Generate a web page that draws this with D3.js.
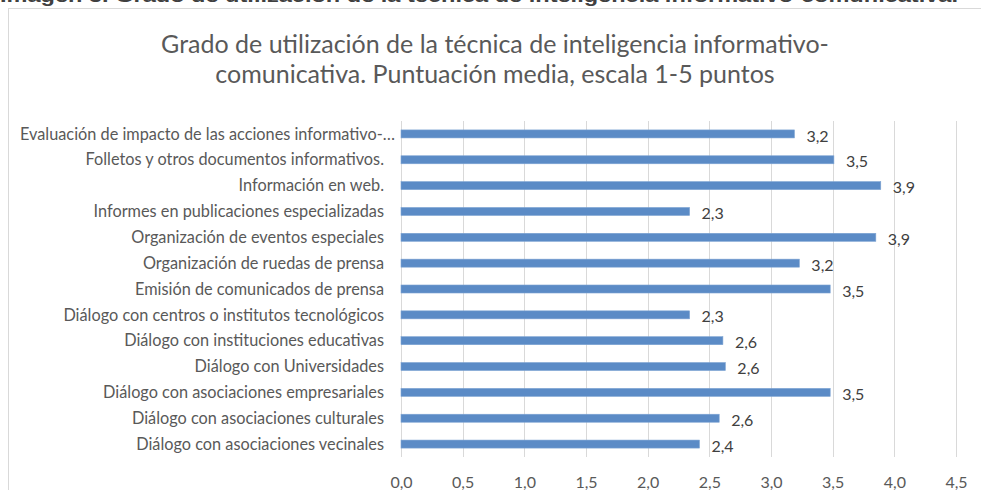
<!DOCTYPE html>
<meta charset="utf-8">
<style>
body { margin: 0; background: #fff; }
svg text { font-family: Lato, "Open Sans", sans-serif; }
.grid line { stroke: #d9d9d9; }
.axis path, .axis line { display: none; }
</style>
<body>
<svg width="981" height="490"></svg>
<script src="https://d3js.org/d3.v7.min.js"></script>
<script>
// categories, top to bottom as in the chart
var categories = [
  "Evaluación de impacto de las acciones informativo-…",
  "Folletos y otros documentos informativos.",
  "Información en web.",
  "Informes en publicaciones especializadas",
  "Organización de eventos especiales",
  "Organización de ruedas de prensa",
  "Emisión de comunicados de prensa",
  "Diálogo con centros o institutos tecnológicos",
  "Diálogo con instituciones educativas",
  "Diálogo con Universidades",
  "Diálogo con asociaciones empresariales",
  "Diálogo con asociaciones culturales",
  "Diálogo con asociaciones vecinales"
];
var values = [3.19, 3.51, 3.89, 2.34, 3.85, 3.23, 3.48, 2.34, 2.61, 2.63, 3.48, 2.58, 2.42];
var ticks = [0, 0.5, 1, 1.5, 2, 2.5, 3, 3.5, 4, 4.5];
var pageTitle = "Imagen 3. Grado de utilización de la técnica de inteligencia informativo-comunicativa.";
var titleLines = ["Grado de utilización de la técnica de inteligencia informativo-",
                  "comunicativa. Puntuación media, escala 1-5 puntos"];

var svg = d3.select("svg");
var fmt = function(v) { return d3.format(".1f")(v).replace(".", ","); };

// cut-off caption above the chart
svg.append("text")
    .attr("x", 0).attr("y", 2)
    .attr("textLength", 958).attr("lengthAdjust", "spacingAndGlyphs")
    .style("font-family", "'Liberation Sans', Arial, sans-serif")
    .style("font-weight", "bold").style("font-size", "18px")
    .attr("fill", "#404040")
    .text(pageTitle);

// chart frame
svg.append("rect")
    .attr("x", 8.5).attr("y", 8.5).attr("width", 1000).attr("height", 500)
    .attr("fill", "none").attr("stroke", "#d9d9d9");

// title
svg.selectAll(".title").data(titleLines).enter().append("text")
    .attr("class", "title")
    .attr("x", 495).attr("y", function(d, i) { return 53 + i * 30; })
    .attr("text-anchor", "middle")
    .attr("fill", "#595959")
    .style("font-size", "25px")
    .text(function(d) { return d; });

var x = d3.scaleLinear().domain([0, 4.5]).range([401, 956]);
var y = d3.scaleBand().domain(categories).range([121, 457])
    .paddingInner(0.69).paddingOuter(0.345);

// gridlines
svg.append("g").attr("class", "grid")
  .selectAll("line").data(ticks).enter().append("line")
    .attr("x1", function(d) { return Math.round(x(d)) + 0.5; })
    .attr("x2", function(d) { return Math.round(x(d)) + 0.5; })
    .attr("y1", 121).attr("y2", 457);

// x axis labels
var xAxis = svg.append("g").attr("class", "axis")
    .attr("transform", "translate(0,474)")
    .call(d3.axisBottom(x).tickValues(ticks).tickFormat(fmt).tickSize(0));
xAxis.selectAll("text")
    .attr("fill", "#595959").style("font-size", "16px");

// y axis labels
var yAxis = svg.append("g").attr("class", "axis")
    .attr("transform", "translate(384,0)")
    .call(d3.axisLeft(y).tickSize(0).tickPadding(0));
yAxis.selectAll("text")
    .attr("fill", "#595959").style("font-size", "16.3px")
    .attr("dy", "0.35em");
yAxis.selectAll("text").filter(function(d, i) { return i === 0; })
    .attr("x", 11);

// bars
svg.selectAll(".bar").data(values).enter().append("rect")
    .attr("class", "bar")
    .attr("x", x(0))
    .attr("y", function(d, i) { return y(categories[i]); })
    .attr("width", function(d) { return x(d) - x(0); })
    .attr("height", y.bandwidth())
    .attr("fill", "#5b8bc6")
    .attr("stroke", "#7ea4d3").attr("stroke-width", 0.6);

// value labels
svg.selectAll(".val").data(values).enter().append("text")
    .attr("class", "val")
    .attr("x", function(d) { return x(d) + 12; })
    .attr("y", function(d, i) { return y(categories[i]) + y.bandwidth() / 2 + 2; })
    .attr("dy", "0.35em")
    .attr("fill", "#404040")
    .style("font-size", "16px")
    .text(fmt);
</script>
</body>
